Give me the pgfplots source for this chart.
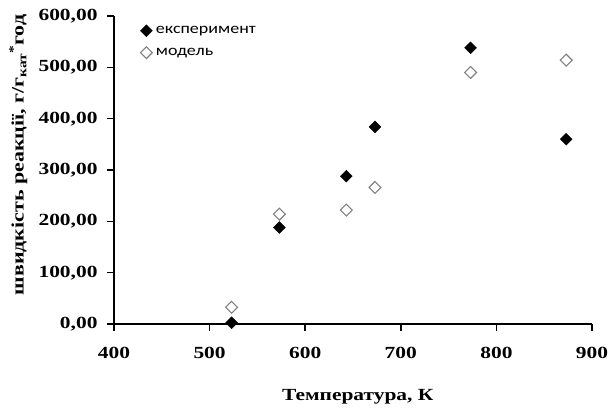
\documentclass[border=0pt]{standalone}
\usepackage{fontspec}
\setmainfont{Liberation Serif}[FakeStretch=1.26]
\newfontfamily\legfont{Carlito}[FakeStretch=1.2]
\usepackage{pgfplots}
\pgfplotsset{compat=1.18}
\begin{document}
\begin{tikzpicture}
\useasboundingbox (0,0) rectangle (611pt,408pt);
\begin{axis}[
  at={(114pt,84pt)}, anchor=south west,
  scale only axis, width=478pt, height=308pt,
  xmin=400, xmax=900, ymin=0, ymax=600,
  xtick={400,500,...,900}, ytick={0,100,...,600},
  axis lines*=left,
  axis line style={line width=1.6pt},
  major tick style={line width=1.6pt, black},
  tick align=outside, major tick length=7pt,
  clip=false,
  /pgf/number format/assume math mode=true,
  tick label style={font=\bfseries\fontsize{17}{20}\selectfont},
  xticklabel style={yshift=-13pt, /pgf/number format/.cd, fixed, 1000 sep={}},
  yticklabel style={xshift=-6pt, /pgf/number format/.cd, fixed, fixed zerofill, precision=2, use comma, 1000 sep={}},
  xlabel={Температура, К},
  xlabel style={at={(axis description cs:0.51,-0.235)}, anchor=center, font=\bfseries\fontsize{17}{20}\selectfont},
  ylabel={швидкість реакції, г/г\textsubscript{кат}\textsuperscript{*}год},
  ylabel style={at={(axis description cs:-0.2,0.549)}, anchor=center, font=\bfseries\fontsize{17.4}{20}\selectfont},
  legend style={at={(axis description cs:0.055,0.972)}, anchor=north west, draw=none, fill=none,
    font=\legfont\fontsize{15}{18}\selectfont, row sep=10pt, inner sep=0pt,
    nodes={inner xsep=3.5pt, inner ysep=1pt}},
  legend cell align=left,
]
\addplot[only marks, mark=square*, mark size=4.2pt, mark options={rotate=45, fill=black, draw=black}]
  coordinates {(523,2.5) (573,188) (643,288) (673,384) (773,538) (873,360)};
\addlegendentry{експеримент}
\addplot[only marks, mark=square, mark size=4.2pt, mark options={rotate=45, fill=white, draw=gray, line width=1.1pt}]
  coordinates {(523,32.5) (573,214) (643,222) (673,266) (773,490) (873,514)};
\addlegendentry{модель}
\end{axis}
\end{tikzpicture}
\end{document}
